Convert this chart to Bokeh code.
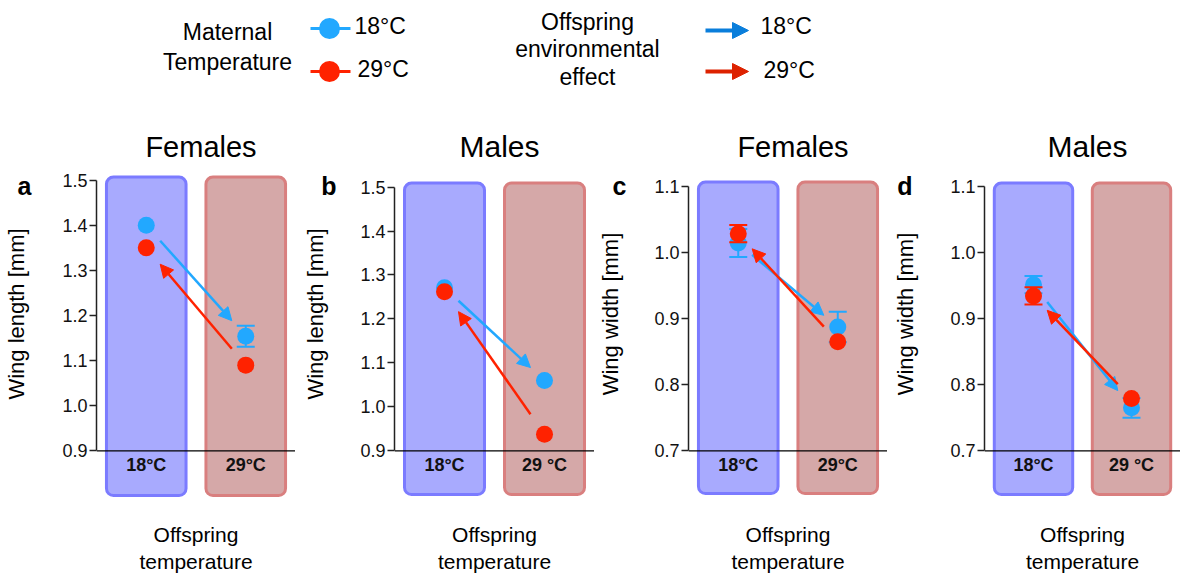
from bokeh.plotting import figure
from bokeh.layouts import column, row
from bokeh.models import (Range1d, ColumnDataSource, Arrow, NormalHead, Span, LinearAxis,
                          FixedTicker, PrintfTickFormatter)
from bokeh.core.properties import value
from bokeh.embed import file_html
from bokeh.resources import INLINE

FONT = "Liberation Sans"

# ---------------- data ----------------
offspring_temps = ["18°C", "29°C"]
maternal_temps = ["18°C", "29°C"]
offspring_labels = {"a": ["18°C", "29°C"], "b": ["18°C", "29 °C"],
                    "c": ["18°C", "29°C"], "d": ["18°C", "29 °C"]}
panel_titles = {"a": "Females", "b": "Males", "c": "Females", "d": "Males"}
y_labels = {"a": "Wing length [mm]", "b": "Wing length [mm]",
            "c": "Wing width [mm]", "d": "Wing width [mm]"}
x_label_lines = ["Offspring", "temperature"]

# means / SE for maternal 18°C and 29°C, at offspring 18°C and 29°C
# (SE 0.0 = error bar too small to be seen behind the marker)
a_mat18 = [1.400, 1.154]; a_mat18_se = [0.0, 0.023]
a_mat29 = [1.350, 1.090]; a_mat29_se = [0.0, 0.0]
b_mat18 = [1.271, 1.060]; b_mat18_se = [0.0, 0.0]
b_mat29 = [1.262, 0.938]; b_mat29_se = [0.0, 0.0]
c_mat18 = [1.014, 0.887]; c_mat18_se = [0.021, 0.023]
c_mat29 = [1.028, 0.865]; c_mat29_se = [0.013, 0.0]
d_mat18 = [0.951, 0.765]; d_mat18_se = [0.013, 0.015]
d_mat29 = [0.934, 0.779]; d_mat29_se = [0.013, 0.0]

ticks_len = [0.9, 1.0, 1.1, 1.2, 1.3, 1.4, 1.5]
ticks_wid = [0.7, 0.8, 0.9, 1.0, 1.1]

BLUE_PT = "#22a8ff"
RED_PT = "#ff2200"
BOX_BLUE_FILL, BOX_BLUE_LINE = "#a8aafe", "#7b7bff"
BOX_RED_FILL, BOX_RED_LINE = "#d5a8a8", "#d97f7f"

# ---------------- panel geometry (style) ----------------
PANEL_H = 455
panels = {
    "a": dict(w=295, bl=92, yr=(0.7967, 1.6099), bounds=(0.9, 1.5), box=(0.801, 1.5066), ticks=ticks_len,
              let_y=1.4868, let_so=28, lab_so=-14, tfs="29px",
              m18=a_mat18, m18se=a_mat18_se, m29=a_mat29, m29se=a_mat29_se),
    "b": dict(w=299, bl=99, yr=(0.794, 1.6286), bounds=(0.9, 1.5), box=(0.8007, 1.509), ticks=ticks_len,
              let_y=1.5023, let_so=21, lab_so=-10, tfs="30px",
              m18=b_mat18, m18se=b_mat18_se, m29=b_mat29, m29se=b_mat29_se),
    "c": dict(w=293, bl=92, yr=(0.6296, 1.1839), bounds=(0.7, 1.1), box=(0.6356, 1.106), ticks=ticks_wid,
              let_y=1.1, let_so=25, lab_so=-13, tfs="29px",
              m18=c_mat18, m18se=c_mat18_se, m29=c_mat29, m29se=c_mat29_se),
    "d": dict(w=293, bl=97, yr=(0.6296, 1.1839), bounds=(0.7, 1.1), box=(0.634, 1.1045), ticks=ticks_wid,
              let_y=1.1, let_so=35, lab_so=-24, tfs="30px",
              m18=d_mat18, m18se=d_mat18_se, m29=d_mat29, m29se=d_mat29_se),
}

F0, F1 = 0.14, 0.86  # arrow start/end fractions along the line between the two means


def style_blank_axis(ax):
    ax.axis_line_color = None
    ax.major_tick_line_color = None
    ax.minor_tick_line_color = None
    ax.major_tick_in = 0
    ax.major_tick_out = 0


def make_panel(key):
    g = panels[key]
    xs = [i + 1 for i in range(len(offspring_temps))]
    p = figure(width=g["w"], height=PANEL_H, x_range=Range1d(0.5, 2.5),
               y_range=Range1d(*g["yr"]), toolbar_location=None, output_backend="svg",
               min_border_left=g["bl"], min_border_right=0,
               min_border_top=10, min_border_bottom=75)
    p.outline_line_color = None
    p.grid.visible = False
    p.background_fill_color = "white"
    p.border_fill_color = "white"

    # offspring temperature boxes
    bb, bt = g["box"]
    p.quad(left=[xs[0] - 0.4], right=[xs[0] + 0.4], bottom=[bb], top=[bt],
           fill_color=BOX_BLUE_FILL, line_color=BOX_BLUE_LINE, line_width=3, border_radius=7)
    p.quad(left=[xs[1] - 0.4], right=[xs[1] + 0.4], bottom=[bb], top=[bt],
           fill_color=BOX_RED_FILL, line_color=BOX_RED_LINE, line_width=3, border_radius=7)

    # baseline
    p.add_layout(Span(location=g["bounds"][0], dimension="width", line_color="black", line_width=1.3))

    # panel title (inside the frame, above the boxes)
    p.text(x=[1.5], y=[g["yr"][1]], text=[panel_titles[key]], text_align="center",
           text_baseline="middle", x_offset=5, y_offset=16, text_font=value(FONT),
           text_font_size=g["tfs"], text_color="black")

    # inner y axis: ticks and numbers
    ax = p.yaxis[0]
    ax.bounds = g["bounds"]
    ax.ticker = FixedTicker(ticks=g["ticks"])
    ax.formatter = PrintfTickFormatter(format="%.1f")
    ax.minor_tick_line_color = None
    ax.major_tick_in = 0
    ax.major_tick_out = 7
    ax.major_tick_line_width = 1.5
    ax.major_tick_line_color = "#222222"
    ax.axis_line_width = 1.5
    ax.axis_line_color = "#222222"
    ax.major_label_text_font = FONT
    ax.major_label_text_font_size = "18px"
    ax.major_label_text_color = "#111111"
    ax.major_label_standoff = 2

    # outer y axis: panel letter (as its only tick label) and the axis title
    outer = LinearAxis(ticker=FixedTicker(ticks=[g["let_y"]]), formatter=PrintfTickFormatter(format=key))
    style_blank_axis(outer)
    outer.major_label_standoff = g["let_so"]
    outer.major_label_text_font = FONT
    outer.major_label_text_font_size = "25px"
    outer.major_label_text_font_style = "bold"
    outer.major_label_text_color = "black"
    outer.axis_label = y_labels[key]
    outer.axis_label_text_font = FONT
    outer.axis_label_text_font_size = "22px"
    outer.axis_label_text_font_style = "normal"
    outer.axis_label_text_color = "black"
    outer.axis_label_standoff = g["lab_so"]
    p.add_layout(outer, "left")

    # x axis title on two stacked blank axes
    xa = p.xaxis[0]
    xa.ticker = FixedTicker(ticks=[])
    style_blank_axis(xa)
    xa.axis_label = x_label_lines[0]
    xa.axis_label_standoff = 25
    xb = LinearAxis(ticker=FixedTicker(ticks=[]))
    style_blank_axis(xb)
    xb.axis_label = x_label_lines[1]
    xb.axis_label_standoff = 1
    p.add_layout(xb, "below")
    for a in (xa, xb):
        a.axis_label_text_font = FONT
        a.axis_label_text_font_size = "21px"
        a.axis_label_text_font_style = "normal"
        a.axis_label_text_color = "black"

    # category labels inside boxes
    p.text(x=xs, y=[g["bounds"][0]] * 2, text=offspring_labels[key], text_align="center",
           text_baseline="top", y_offset=4, text_font=value(FONT), text_font_size="18px",
           text_font_style="bold", text_color="#111111")

    # error bars (only where visible) and points
    for means, ses, col in ((g["m18"], g["m18se"], BLUE_PT), (g["m29"], g["m29se"], RED_PT)):
        ex = [x for x, s in zip(xs, ses) if s > 0]
        lo = [m - s for m, s in zip(means, ses) if s > 0]
        hi = [m + s for m, s in zip(means, ses) if s > 0]
        if ex:
            p.segment(x0=ex, y0=lo, x1=ex, y1=hi, line_color=col, line_width=2)
            p.scatter(x=ex + ex, y=lo + hi, marker="dash", size=18, line_color=col, line_width=2)
        p.scatter(x=xs, y=means, marker="circle", size=17, fill_color=col, line_color=None)

    # arrows: maternal 18 -> offspring 18 to 29 ; maternal 29 -> offspring 29 to 18
    m18, m29 = g["m18"], g["m29"]
    blue = ColumnDataSource(dict(
        x0=[xs[0] + F0 * (xs[1] - xs[0])], y0=[m18[0] + F0 * (m18[1] - m18[0])],
        x1=[xs[0] + F1 * (xs[1] - xs[0])], y1=[m18[0] + F1 * (m18[1] - m18[0])]))
    red = ColumnDataSource(dict(
        x0=[xs[1] + F0 * (xs[0] - xs[1])], y0=[m29[1] + F0 * (m29[0] - m29[1])],
        x1=[xs[1] + F1 * (xs[0] - xs[1])], y1=[m29[1] + F1 * (m29[0] - m29[1])]))
    for src, col in ((blue, BLUE_PT), (red, RED_PT)):
        p.add_layout(Arrow(end=NormalHead(size=13, fill_color=col, line_color=col, line_width=1),
                           x_start="x0", y_start="y0", x_end="x1", y_end="y1", source=src,
                           line_color=col, line_width=2.5))
    return p


# ---------------- legend strip ----------------
leg = figure(width=1180, height=120, x_range=Range1d(0, 1180), y_range=Range1d(120, 0),
             toolbar_location=None, output_backend="svg", x_axis_location=None,
             y_axis_location=None, min_border=0)
leg.outline_line_color = None
leg.grid.visible = False


def leg_text(x, y, t, align="center"):
    leg.text(x=[x], y=[y], text=[t], text_align=align, text_baseline="middle",
             text_font=value(FONT), text_font_size="23px", text_color="black")


leg_text(227, 31, "Maternal")
leg_text(227, 61, "Temperature")
for yy, ty, col, lab, tx in ((28, 25, BLUE_PT, maternal_temps[0], 354), (71, 68, RED_PT, maternal_temps[1], 357)):
    leg.line(x=[310, 350], y=[yy, yy], line_color=col, line_width=3)
    leg.scatter(x=[329], y=[yy], marker="circle", size=21, fill_color=col, line_color=None)
    leg_text(tx, ty, lab, "left")

leg_text(587, 21, "Offspring")
leg_text(587, 48, "environmental")
leg_text(587, 76, "effect")
for yy, ty, col, lab, tx in ((30, 25, "#0a7edb", offspring_temps[0], 760), (71, 69, "#dd2200", offspring_temps[1], 763)):
    src = ColumnDataSource(dict(x0=[705], y0=[yy], x1=[748], y1=[yy]))
    leg.add_layout(Arrow(end=NormalHead(size=16, fill_color=col, line_color=col, line_width=1),
                         x_start="x0", y_start="y0", x_end="x1", y_end="y1", source=src,
                         line_color=col, line_width=4))
    leg_text(tx, ty, lab, "left")

layout = column(leg, row(*[make_panel(k) for k in "abcd"], spacing=0), spacing=0)

open("out.html", "w").write(file_html(layout, INLINE))
